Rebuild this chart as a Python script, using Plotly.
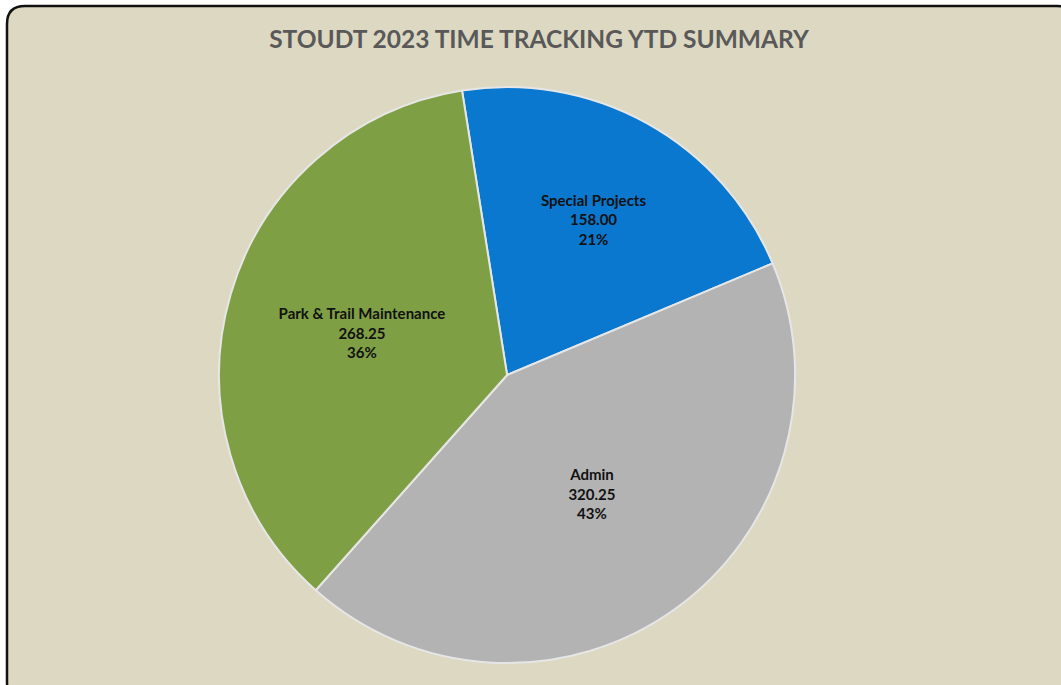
import plotly.graph_objects as go

# --- data ---
categories = ["Special Projects", "Admin", "Park & Trail Maintenance"]
hours = [158.00, 320.25, 268.25]
slice_colors = ["#0B78CF", "#B3B3B3", "#7F9F45"]

W, H = 1061, 685

fig = go.Figure()

fig.add_trace(
    go.Pie(
        labels=categories,
        values=hours,
        sort=False,
        direction="clockwise",
        rotation=-9,
        marker=dict(colors=slice_colors, line=dict(color="#E6E6E6", width=2)),
        texttemplate="<b>%{label}</b><br><b>%{value:.2f}</b><br><b>%{percent:.0%}</b>",
        textposition="inside",
        insidetextorientation="horizontal",
        textfont=dict(family="Lato", size=15, color="#111111"),
        domain=dict(x=[0.2065, 0.7494], y=[0.032, 0.873]),
        showlegend=False,
        hoverinfo="label+value+percent",
    )
)

# rounded frame (paper coords)
def px(x):
    return x / W

def py(y):
    return 1 - y / H

x0, y0, x1, y1, r = 7, 6, 1075, 700, 18
path = (
    f"M {px(x0 + r)},{py(y0)} L {px(x1 - r)},{py(y0)} "
    f"Q {px(x1)},{py(y0)} {px(x1)},{py(y0 + r)} L {px(x1)},{py(y1 - r)} "
    f"Q {px(x1)},{py(y1)} {px(x1 - r)},{py(y1)} L {px(x0 + r)},{py(y1)} "
    f"Q {px(x0)},{py(y1)} {px(x0)},{py(y1 - r)} L {px(x0)},{py(y0 + r)} "
    f"Q {px(x0)},{py(y0)} {px(x0 + r)},{py(y0)} Z"
)

fig.update_layout(
    width=W,
    height=H,
    margin=dict(l=0, r=0, t=0, b=0),
    paper_bgcolor="white",
    shapes=[
        dict(
            type="path",
            xref="paper",
            yref="paper",
            path=path,
            fillcolor="#DDD8C2",
            line=dict(color="#111111", width=2.5),
            layer="below",
        )
    ],
    title=dict(
        text="<b>STOUDT 2023 TIME TRACKING YTD SUMMARY</b>",
        x=539 / W,
        xanchor="center",
        y=1 - 39 / H,
        yanchor="middle",
        font=dict(family="Lato", size=24.5, color="#595959"),
    ),
)

# drop the default page margin so the figure sits at the window's corner
fig.write_html(
    "out.html",
    config={"displayModeBar": False},
    post_script="document.body.style.margin='0';",
)
